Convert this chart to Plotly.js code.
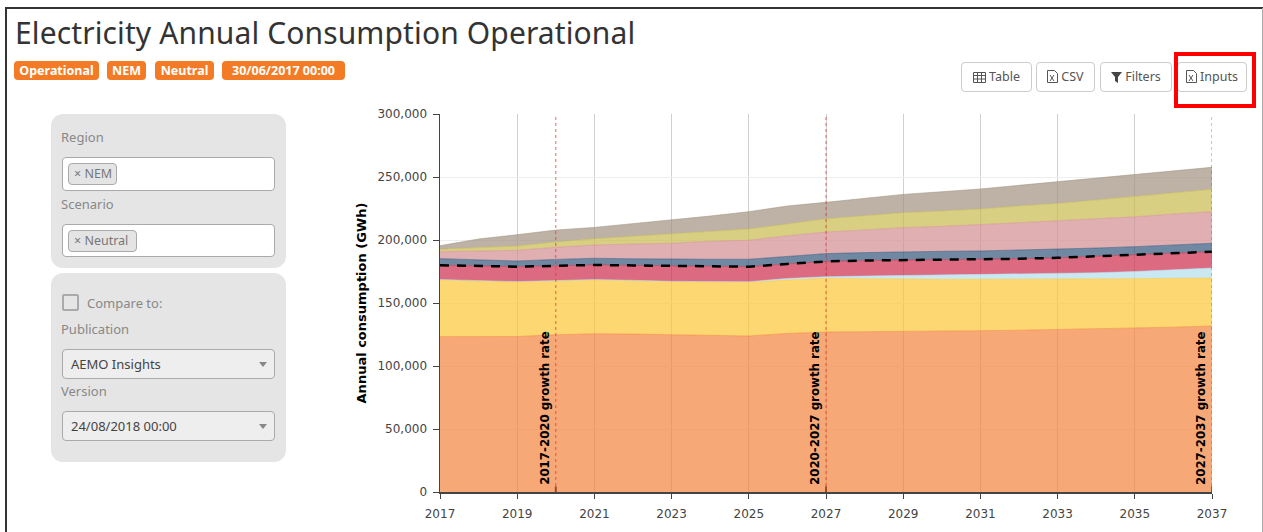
<!DOCTYPE html>
<html><head><meta charset="utf-8">
<script src="https://cdn.plot.ly/plotly-3.0.1.min.js"></script>
<style>
html,body{margin:0;padding:0;background:#fff;width:1263px;height:532px;overflow:hidden;font-family:"Noto Sans",sans-serif}
#frame{position:absolute;left:5px;top:7px;width:1300px;height:600px;border-left:2px solid #333;border-top:2px solid #333}
#edge{position:absolute;left:1262px;top:8px;width:1px;height:524px;background:#aaa}
.a{position:absolute;box-sizing:border-box;white-space:nowrap}
#chart{position:absolute;left:0;top:0;width:1263px;height:532px}
h1{position:absolute;left:15px;top:12px;margin:0;font-weight:400;font-size:30px;letter-spacing:.12px;line-height:42px;color:#333;white-space:nowrap}
.badge{background:#f47b25;color:#fff;font-weight:700;font-size:12.5px;height:19px;line-height:19px;top:61px;border-radius:4px;text-align:center}
.btn{top:62px;height:30px;line-height:28px;border:1px solid #ccc;border-radius:4px;background:#fff;color:#555;font-size:12.5px;text-align:center}
.btn svg{vertical-align:-2px;margin-right:3px}
.panel{background:#e5e5e5;border-radius:12px;left:51px;width:235px}
.lab{left:61px;color:#888;font-size:13px;line-height:18px}
.box{left:62px;width:213px;background:#fff;border:1px solid #aaa;border-radius:4px}
.tag{left:68px;height:22px;line-height:20px;background:#e4e4e4;border:1px solid #aaa;border-radius:4px;color:#777;font-size:12.5px;padding-left:5px}
.sel{left:62px;width:213px;height:30px;line-height:28px;background:#eee;border:1px solid #aaa;border-radius:4px;color:#444;font-size:13px;padding-left:8px}
.sel:after{content:"";position:absolute;right:7px;top:12px;border-left:4px solid transparent;border-right:4px solid transparent;border-top:5px solid #888}
</style></head><body>
<div id="frame"></div><div id="edge"></div>
<h1>Electricity Annual Consumption Operational</h1>
<div class="a badge" style="left:14px;width:85px">Operational</div>
<div class="a badge" style="left:107px;width:39px">NEM</div>
<div class="a badge" style="left:155px;width:59px">Neutral</div>
<div class="a badge" style="left:222px;width:123px">30/06/2017 00:00</div>

<div class="a btn" style="left:961px;width:71px"><svg width="13" height="11"><path d="M.5.5h12v10H.5zM.5 3.5h12M.5 7h12M4.5.5v10M8.5.5v10" fill="none" stroke="#555"/></svg>Table</div>
<div class="a btn" style="left:1036px;width:59px"><svg width="11" height="13"><path d="M.5.5h7l3 3v9H.5zM3 5l4 6M7 5l-4 6" fill="none" stroke="#555"/></svg>CSV</div>
<div class="a btn" style="left:1100px;width:72px"><svg width="11" height="11"><path d="M0 0h11L7 5v6L4 9V5z" fill="#444"/></svg>Filters</div>
<div class="a btn" style="left:1177px;width:70px"><svg width="11" height="13"><path d="M.5.5h7l3 3v9H.5zM3 5l4 6M7 5l-4 6" fill="none" stroke="#555"/></svg>Inputs</div>
<div class="a" style="left:1174px;top:52px;width:82px;height:56px;border:4px solid #f00"></div>

<div class="a panel" style="top:114px;height:154px"></div>
<div class="a lab" style="top:128px">Region</div>
<div class="a box" style="top:157px;height:34px"></div>
<div class="a tag" style="top:163px;width:49px">× NEM</div>
<div class="a lab" style="top:195px">Scenario</div>
<div class="a box" style="top:224px;height:33px"></div>
<div class="a tag" style="top:230px;width:69px">× Neutral</div>
<div class="a panel" style="top:273px;height:189px"></div>
<div class="a" style="left:62px;top:294px;width:17px;height:17px;border:2px solid #aaa;border-radius:2px"></div>
<div class="a lab" style="left:87px;top:294px">Compare to:</div>
<div class="a lab" style="top:320px">Publication</div>
<div class="a sel" style="top:349px">AEMO Insights</div>
<div class="a lab" style="top:382px">Version</div>
<div class="a sel" style="top:411px">24/08/2018 00:00</div>
<div id="chart"></div>
<script>
const years = [2017,2018,2019,2020,2021,2022,2023,2024,2025,2026,2027,2028,2029,2030,2031,2032,2033,2034,2035,2036,2037];
const band1 = [123300,123400,123400,124800,125600,125300,124700,124300,123800,125800,127000,127200,127300,127600,128000,128400,128900,129400,130000,130800,131700];
const band2 = [45000,44100,43300,42700,42700,42400,42200,42400,42600,42400,42600,42100,41500,41200,40800,40400,39900,39600,39300,38800,38100];
const band3 = [300,300,300,300,300,300,300,300,500,1300,1300,2100,3000,3400,3700,4100,4500,5000,5700,6700,8000];
const band4 = [11400,11600,11800,11700,11600,11800,12200,12100,11900,11500,12100,12300,12200,12000,12000,12200,12600,13100,13500,13500,12900];
const band5 = [5200,4800,4500,5100,5300,5300,5300,5600,5900,6200,6200,6300,6700,6800,6800,6900,6700,6500,6200,6200,6700];
const band6 = [5500,7100,8500,9600,10500,11700,12700,14300,15100,16200,17100,18000,19100,19800,20700,21700,22700,23300,23700,24600,25100];
const band7 = [1900,2300,3400,4200,5000,6200,7400,7900,8900,9300,10500,11300,11900,12200,12600,13300,13700,14800,16000,16700,17700];
const band8 = [2900,7200,9000,9500,9000,10000,11100,12100,13800,14300,13100,13700,14500,15300,15900,16400,17300,17500,17700,17700,17500];
const dashedTotal = [180000,179400,178800,179500,180200,179800,179400,179100,178800,181000,183000,183700,184000,184200,184500,185100,185900,187100,188500,189800,190700];
const bandColors = ['243,131,61','252,198,54','178,222,236','205,43,74','52,86,124','211,141,145','199,187,78','161,146,127'];
const bands = [band1,band2,band3,band4,band5,band6,band7,band8];
const growthYears = [2020,2027,2037];
const growthLabels = ['2017-2020 growth rate','2020-2027 growth rate','2027-2037 growth rate'];
const xTicks = [2017,2019,2021,2023,2025,2027,2029,2031,2033,2035,2037];
const yTicks = [0,50000,100000,150000,200000,250000,300000];

const traces = bands.map((b,i)=>({
  x:years,y:b,type:'scatter',mode:'lines',stackgroup:'s',name:'Band '+(i+1),
  line:{color:'rgba('+bandColors[i]+',0.55)',width:1},
  fillcolor:'rgba('+bandColors[i]+',0.7)',hoverinfo:'skip'
}));
traces.push({x:years,y:dashedTotal,type:'scatter',mode:'lines',name:'Total',
  line:{color:'#000',width:2.5,dash:'9px,8px'},hoverinfo:'skip'});

const chartFont='"DejaVu Sans",Verdana,sans-serif';
const shapes=[],annotations=[];
growthYears.forEach((g,i)=>{
  shapes.push({type:'line',xref:'x',yref:'y',x0:g,x1:g,y0:0,y1:300000,layer:'above',line:{color:'rgba(225,50,50,0.75)',width:1,dash:'dot'}});
  shapes.push({type:'line',xref:'x',yref:'y',x0:g,x1:g,y0:0,y1:4500,layer:'above',line:{color:'rgba(140,60,30,0.8)',width:2}});
  annotations.push({x:g,y:0,xref:'x',yref:'y',text:growthLabels[i],textangle:-90,showarrow:false,
    xanchor:'right',yanchor:'bottom',xshift:-2,yshift:5,font:{family:chartFont,size:11.8,color:'#000',weight:700}});
});
Plotly.newPlot('chart',traces,{
  width:1263,height:532,paper_bgcolor:'rgba(0,0,0,0)',plot_bgcolor:'rgba(0,0,0,0)',
  margin:{l:440,r:51,t:114,b:40,pad:0},showlegend:false,
  font:{family:chartFont,size:12,color:'#444'},
  xaxis:{range:[2017,2037],tickmode:'array',tickvals:xTicks,ticktext:xTicks.map(String),ticks:'outside',ticklen:5,tickcolor:'#444',
    showline:true,linecolor:'#444',linewidth:1.5,gridcolor:'#d0d0d0',gridwidth:1,zeroline:false,ticklabelstandoff:5},
  yaxis:{range:[0,300000],tickmode:'array',tickvals:yTicks,ticktext:yTicks.map(v=>v.toLocaleString('en-US')),ticks:'outside',ticklen:6,tickcolor:'#444',
    showline:true,linecolor:'#444',linewidth:1.5,gridcolor:'#eeeeee',gridwidth:1,zeroline:false,ticklabelstandoff:3,
    title:{text:'Annual consumption (GWh)',standoff:8,font:{family:chartFont,size:13,color:'#000',weight:700}}},
  shapes:shapes,annotations:annotations
},{displayModeBar:false,staticPlot:true});
</script>
</body></html>
